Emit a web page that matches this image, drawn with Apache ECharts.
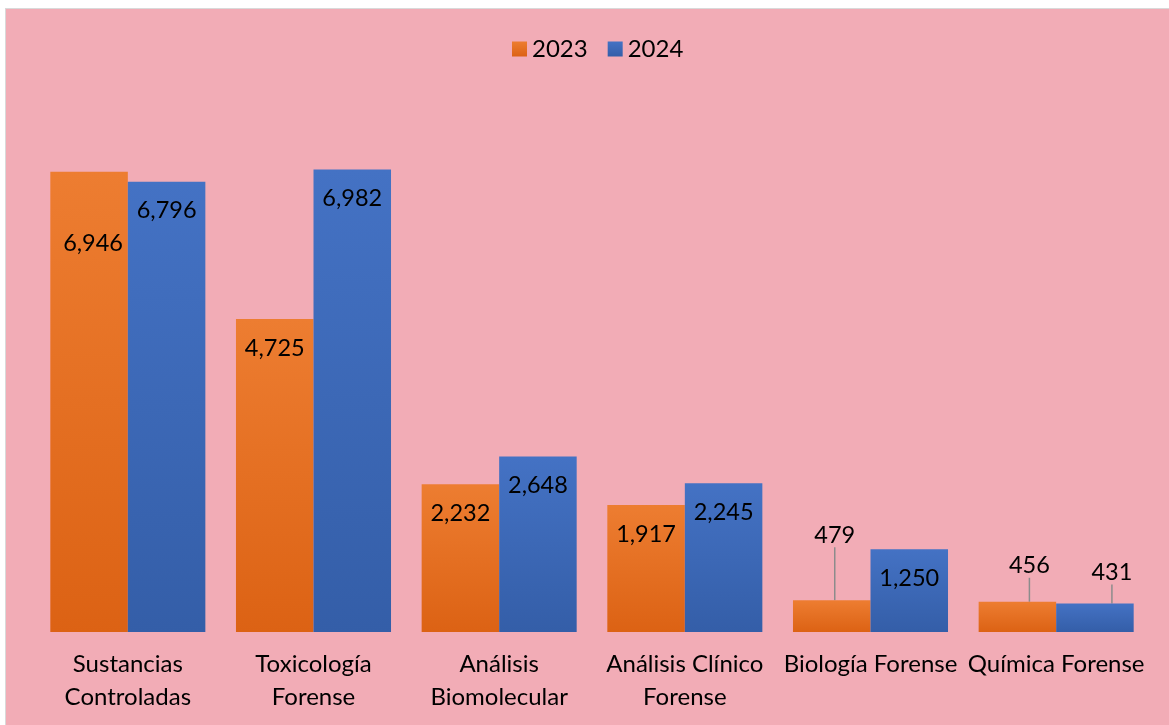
<!DOCTYPE html>
<html>
<head>
<meta charset="utf-8">
<script src="https://cdn.jsdelivr.net/npm/echarts@6/dist/echarts.min.js"></script>
<style>
html,body{margin:0;padding:0;background:#ffffff;width:1169px;height:725px;overflow:hidden;}
#chart{position:absolute;left:5px;top:8px;width:1163px;height:716px;background:#F2ACB6;border-left:1px solid #D9D9D9;border-top:1px solid #D9D9D9;}
</style>
</head>
<body>
<div id="chart"></div>
<script>
const categories = ['Sustancias\nControladas', 'Toxicología\nForense', 'Análisis\nBiomolecular', 'Análisis Clínico\nForense', 'Biología Forense', 'Química Forense'];
const seriesNames = ['2023', '2024'];
const values2023 = [6946, 4725, 2232, 1917, 479, 456];
const values2024 = [6796, 6982, 2648, 2245, 1250, 431];

const FONT = 'Lato';
const chart = echarts.init(document.getElementById('chart'), null, {renderer: 'canvas'});

function grad(top, bottom) {
  return new echarts.graphic.LinearGradient(0, 0, 0, 1, [
    {offset: 0, color: top}, {offset: 1, color: bottom}
  ]);
}

// label moves (relative to default label spot); outside ones get a leader line
const move2023 = {0: {dx: 4, dy: 43, line: false}, 4: {dx: 3, dy: -53, line: true}, 5: {dx: 12, dy: -24, line: true}};
const move2024 = {5: {dx: 17, dy: -19, line: true}};

function makeData(vals, moves) {
  return vals.map((v, i) => {
    const d = {value: v};
    const m = moves[i];
    if (m && m.line) d.label = {position: 'top', distance: 0};
    if (m && !m.line) d.labelLine = {show: false};
    return d;
  });
}

const labelBase = {
  show: true, position: 'insideTop', distance: 17,
  color: '#000', fontFamily: FONT, fontSize: 23.5,
  formatter: p => p.value.toLocaleString('en-US')
};

function layoutFn(moves) {
  return p => moves[p.dataIndex] ? {dx: moves[p.dataIndex].dx, dy: moves[p.dataIndex].dy} : {};
}

chart.setOption({
  animation: false,
  textStyle: {fontFamily: FONT},
  legend: {
    top: 28, left: 506,
    itemWidth: 15, itemHeight: 15, itemGap: 20, padding: 0,
    textStyle: {fontFamily: FONT, fontSize: 24, color: '#000'},
    data: seriesNames.map(n => ({name: n, icon: 'rect'}))
  },
  grid: {left: 29, right: 20, top: 93, bottom: 93, containLabel: false},
  xAxis: {
    type: 'category', data: categories,
    axisLine: {show: false}, axisTick: {show: false},
    axisLabel: {fontFamily: FONT, fontSize: 24, color: '#000', lineHeight: 33, margin: 16, interval: 0}
  },
  yAxis: {type: 'value', min: 0, max: 8000, show: false, splitLine: {show: false}},
  series: [
    {
      name: seriesNames[0], type: 'bar', barGap: '0%', barCategoryGap: '16.5%',
      itemStyle: {color: grad('#ED7D31', '#DC6214')},
      label: labelBase,
      labelLine: {show: true, lineStyle: {color: '#8C8C8C', width: 1.5}},
      labelLayout: layoutFn(move2023),
      data: makeData(values2023, move2023)
    },
    {
      name: seriesNames[1], type: 'bar',
      itemStyle: {color: grad('#4472C4', '#345EA8')},
      label: labelBase,
      labelLine: {show: true, lineStyle: {color: '#8C8C8C', width: 1.5}},
      labelLayout: layoutFn(move2024),
      data: makeData(values2024, move2024)
    }
  ]
});
</script>
</body>
</html>
